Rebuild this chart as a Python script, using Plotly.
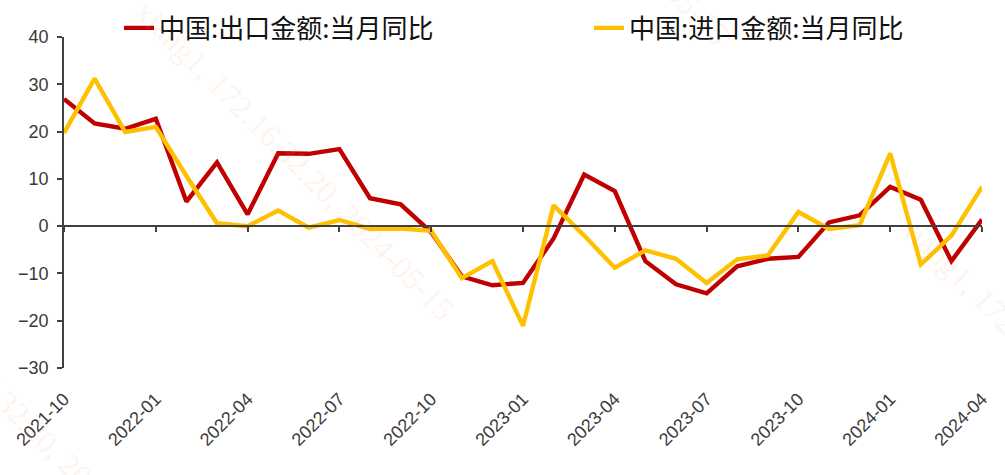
import plotly.graph_objects as go

months = ["2021-10", "2021-11", "2021-12",
          "2022-01", "2022-02", "2022-03", "2022-04", "2022-05", "2022-06",
          "2022-07", "2022-08", "2022-09", "2022-10", "2022-11", "2022-12",
          "2023-01", "2023-02", "2023-03", "2023-04", "2023-05", "2023-06",
          "2023-07", "2023-08", "2023-09", "2023-10", "2023-11", "2023-12",
          "2024-01", "2024-02", "2024-03", "2024-04"]

export_yoy = [26.9, 21.7, 20.6, 22.7, 5.2, 13.5, 2.5, 15.4, 15.3, 16.3, 5.9, 4.6,
              -1.3, -10.6, -12.5, -12.0, -2.6, 10.9, 7.4, -7.4, -12.3, -14.2,
              -8.5, -6.9, -6.5, 0.8, 2.3, 8.3, 5.6, -7.4, 1.4]

import_yoy = [19.7, 31.2, 19.9, 21.0, 10.6, 0.6, 0.0, 3.3, -0.3, 1.3, -0.6, -0.5,
              -1.0, -11.0, -7.4, -21.1, 4.4, -2.0, -8.8, -5.1, -6.9, -12.0,
              -7.0, -6.2, 3.0, -0.6, 0.2, 15.4, -8.1, -2.0, 8.3]

tick_months = ["2021-10", "2022-01", "2022-04", "2022-07", "2022-10", "2023-01",
               "2023-04", "2023-07", "2023-10", "2024-01", "2024-04"]

name_export = "中国:出口金额:当月同比"
name_import = "中国:进口金额:当月同比"
watermark = "xiang1, 172.16.32.20, 2024-05-15"

W, H = 1005, 475
ML, MR, MT, MB = 64, 23, 37, 107
PW, PH = W - ML - MR, H - MT - MB

def px_to_paper(px, py):
    return (px - ML) / PW, (H - MB - py) / PH

fig = go.Figure()
fig.add_trace(go.Scatter(x=months, y=export_yoy, mode="lines", name=name_export,
                         legend="legend",
                         line=dict(color="#C00000", width=4.4)))
fig.add_trace(go.Scatter(x=months, y=import_yoy, mode="lines", name=name_import,
                         legend="legend2",
                         line=dict(color="#FFC000", width=4.4)))
# helper trace for the zero-line axis with ticks
fig.add_trace(go.Scatter(x=months, y=[None] * len(months), xaxis="x2", mode="lines",
                         showlegend=False, hoverinfo="skip"))

axis_color = "#404040"
ymin, ymax = -30, 40

annotations = []
for cx, cy in [(295, 160), (570, -115), (15, 410), (1060, 375)]:
    ax_, ay_ = px_to_paper(cx, cy)
    annotations.append(dict(x=ax_, y=ay_, xref="paper", yref="paper", text=watermark,
                            showarrow=False, textangle=45, xanchor="center", yanchor="middle",
                            font=dict(family="Liberation Serif", size=32,
                                      color="rgba(245,160,110,0.13)")))

legend_font = dict(family="Noto Sans CJK SC", size=26, color="#111111")

fig.update_layout(
    width=W, height=H,
    margin=dict(l=ML, r=MR, t=MT, b=MB, autoexpand=False),
    paper_bgcolor="white", plot_bgcolor="white",
    showlegend=True,
    legend=dict(orientation="h", xref="container", yref="container",
                x=119 / W, y=1 - 28 / H, xanchor="left", yanchor="middle",
                font=legend_font, bgcolor="rgba(0,0,0,0)"),
    legend2=dict(orientation="h", xref="container", yref="container",
                 x=589 / W, y=1 - 28 / H, xanchor="left", yanchor="middle",
                 font=legend_font, bgcolor="rgba(0,0,0,0)"),
    xaxis=dict(type="category", range=[0, len(months) - 1], showline=False,
               showgrid=False, zeroline=False, ticks="", tickvals=tick_months,
               ticktext=tick_months, tickangle=-45, ticklabelstandoff=16,
               tickfont=dict(family="Liberation Sans", size=18, color="#3a3a3a")),
    xaxis2=dict(type="category", overlaying="x", anchor="free",
                position=(0 - ymin) / (ymax - ymin), side="bottom",
                range=[0, len(months) - 1], showline=True, linecolor=axis_color,
                linewidth=1.6, showgrid=False, zeroline=False, ticks="outside",
                ticklen=5, tickwidth=1.6, tickcolor=axis_color, tickvals=tick_months,
                showticklabels=False),
    yaxis=dict(range=[ymin, ymax], dtick=10, showline=True, linecolor=axis_color,
               linewidth=1.6, ticks="outside", ticklen=5, tickwidth=1.6,
               tickcolor=axis_color, showgrid=False, zeroline=False,
               ticklabelstandoff=5,
               tickfont=dict(family="Liberation Sans", size=18, color="#3a3a3a")),
    annotations=annotations,
)

fig.write_html("out.html")
